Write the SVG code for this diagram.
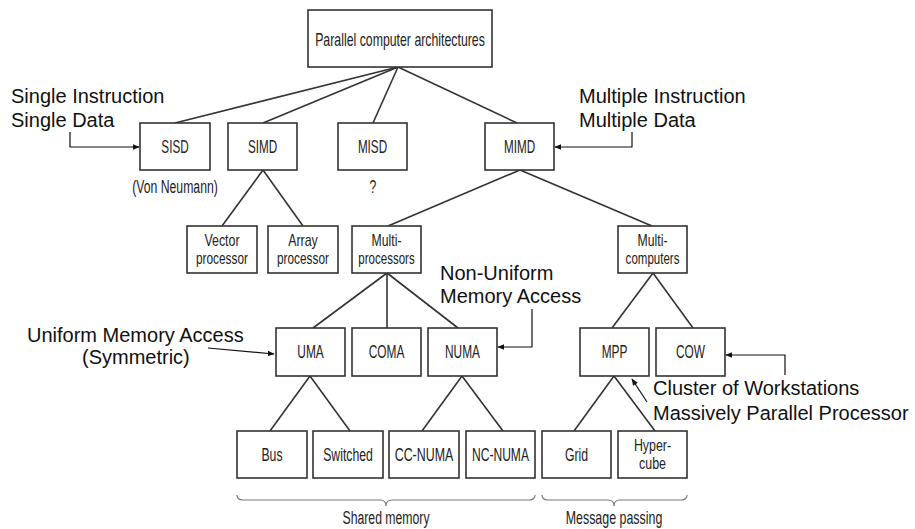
<svg xmlns="http://www.w3.org/2000/svg" width="915" height="529" viewBox="0 0 915 529">
  <style>
    .box { fill: #ffffff; stroke: #333333; stroke-width: 1.6; }
    .nt { font-family: "Liberation Sans", Arial, Helvetica, sans-serif; font-size: 18px; fill: #222222; text-anchor: middle; }
    .nt2 { font-size: 16px; }
    .edge { stroke: #333333; stroke-width: 1.6; fill: none; }
    .note { font-family: "Liberation Sans", Arial, sans-serif; font-size: 20px; fill: #111111; }
    .ptr { stroke: #111111; stroke-width: 1.2; fill: none; }
    .brace { stroke: #777777; stroke-width: 1.2; fill: none; }
  </style>
  <defs>
    <marker id="head" viewBox="0 0 10 10" refX="9" refY="5" markerWidth="7" markerHeight="7" orient="auto" markerUnits="userSpaceOnUse">
      <path d="M0,1 L10,5 L0,9 Z" fill="#111111"/>
    </marker>
  </defs>
  <rect width="915" height="529" fill="#ffffff"/>

  <!-- tree edges -->
  <g id="connectors">
    <line class="edge" x1="398" y1="67" x2="175" y2="123"/>
    <line class="edge" x1="398" y1="67" x2="263" y2="123"/>
    <line class="edge" x1="398" y1="67" x2="373" y2="123"/>
    <line class="edge" x1="398" y1="67" x2="517" y2="123"/>
    <line class="edge" x1="263" y1="170" x2="222" y2="226"/>
    <line class="edge" x1="263" y1="170" x2="303" y2="226"/>
    <line class="edge" x1="520" y1="170" x2="388" y2="226"/>
    <line class="edge" x1="520" y1="170" x2="652" y2="226"/>
    <line class="edge" x1="387" y1="273" x2="313" y2="328"/>
    <line class="edge" x1="387" y1="273" x2="387" y2="328"/>
    <line class="edge" x1="387" y1="273" x2="458" y2="328"/>
    <line class="edge" x1="653" y1="273" x2="612" y2="328"/>
    <line class="edge" x1="653" y1="273" x2="693" y2="328"/>
    <line class="edge" x1="310" y1="376" x2="270" y2="431"/>
    <line class="edge" x1="310" y1="376" x2="350" y2="431"/>
    <line class="edge" x1="462" y1="376" x2="422" y2="431"/>
    <line class="edge" x1="462" y1="376" x2="503" y2="431"/>
    <line class="edge" x1="614" y1="376" x2="574" y2="431"/>
    <line class="edge" x1="614" y1="376" x2="655" y2="431"/>
  </g>

  <!-- nodes (labels set in a condensed face: scaled horizontally) -->
  <g id="root"><rect class="box" x="308" y="10" width="184" height="57"/><text class="nt" transform="translate(400,46) scale(0.685,1)">Parallel computer architectures</text></g>

  <g id="sisd"><rect class="box" x="140" y="123" width="70" height="47"/><text class="nt" transform="translate(175,153) scale(0.65,1)">SISD</text></g>
  <g id="simd"><rect class="box" x="228" y="123" width="69" height="47"/><text class="nt" transform="translate(262.5,153) scale(0.65,1)">SIMD</text></g>
  <g id="misd"><rect class="box" x="338" y="123" width="69" height="47"/><text class="nt" transform="translate(372.5,153) scale(0.65,1)">MISD</text></g>
  <g id="mimd"><rect class="box" x="485" y="123" width="69" height="47"/><text class="nt" transform="translate(519.5,153) scale(0.65,1)">MIMD</text></g>

  <g id="sisd-note"><text class="nt" transform="translate(175,193) scale(0.68,1)">(Von Neumann)</text></g>
  <g id="misd-note"><text class="nt" transform="translate(373,193) scale(0.68,1)">?</text></g>

  <g id="vector"><rect class="box" x="187" y="226" width="70" height="47"/><text class="nt nt2" transform="translate(222,246) scale(0.776,1)">Vector</text><text class="nt nt2" transform="translate(222,264) scale(0.74,1)">processor</text></g>
  <g id="array"><rect class="box" x="268" y="226" width="70" height="47"/><text class="nt nt2" transform="translate(303,246) scale(0.776,1)">Array</text><text class="nt nt2" transform="translate(303,264) scale(0.74,1)">processor</text></g>
  <g id="multiprocessors"><rect class="box" x="352" y="226" width="69" height="47"/><text class="nt nt2" transform="translate(386.5,246) scale(0.765,1)">Multi-</text><text class="nt nt2" transform="translate(386.5,264) scale(0.72,1)">processors</text></g>
  <g id="multicomputers"><rect class="box" x="618" y="226" width="69" height="47"/><text class="nt nt2" transform="translate(652.5,246) scale(0.765,1)">Multi-</text><text class="nt nt2" transform="translate(652.5,264) scale(0.72,1)">computers</text></g>

  <g id="uma"><rect class="box" x="276" y="328" width="69" height="48"/><text class="nt" transform="translate(310.5,358) scale(0.66,1)">UMA</text></g>
  <g id="coma"><rect class="box" x="352" y="328" width="69" height="48"/><text class="nt" transform="translate(386.5,358) scale(0.66,1)">COMA</text></g>
  <g id="numa"><rect class="box" x="428" y="328" width="69" height="48"/><text class="nt" transform="translate(462.5,358) scale(0.66,1)">NUMA</text></g>
  <g id="mpp"><rect class="box" x="580" y="328" width="69" height="48"/><text class="nt" transform="translate(614.5,358) scale(0.66,1)">MPP</text></g>
  <g id="cow"><rect class="box" x="656" y="328" width="69" height="48"/><text class="nt" transform="translate(690.5,358) scale(0.66,1)">COW</text></g>

  <g id="bus"><rect class="box" x="237" y="431" width="70" height="47"/><text class="nt" transform="translate(272,461) scale(0.68,1)">Bus</text></g>
  <g id="switched"><rect class="box" x="313" y="431" width="70" height="47"/><text class="nt" transform="translate(348,461) scale(0.68,1)">Switched</text></g>
  <g id="cc-numa"><rect class="box" x="389" y="431" width="70" height="47"/><text class="nt" transform="translate(424,461) scale(0.69,1)">CC-NUMA</text></g>
  <g id="nc-numa"><rect class="box" x="466" y="431" width="69" height="47"/><text class="nt" transform="translate(500.5,461) scale(0.67,1)">NC-NUMA</text></g>
  <g id="grid"><rect class="box" x="542" y="431" width="69" height="47"/><text class="nt" transform="translate(576.5,461) scale(0.68,1)">Grid</text></g>
  <g id="hypercube"><rect class="box" x="618" y="431" width="69" height="47"/><text class="nt nt2" transform="translate(652.5,451) scale(0.776,1)">Hyper-</text><text class="nt nt2" transform="translate(652.5,469) scale(0.776,1)">cube</text></g>

  <!-- group braces -->
  <g id="shared-memory">
    <path class="brace" d="M237,495 Q237,500 243,500 L380,500 Q386,500 386,506 Q386,500 392,500 L529,500 Q535,500 535,495"/>
    <text class="nt" transform="translate(386,524) scale(0.68,1)">Shared memory</text>
  </g>
  <g id="message-passing">
    <path class="brace" d="M542,495 Q542,500 548,500 L608,500 Q614,500 614,506 Q614,500 620,500 L681,500 Q687,500 687,495"/>
    <text class="nt" transform="translate(614,524) scale(0.69,1)">Message passing</text>
  </g>

  <!-- callouts -->
  <g id="callout-sisd">
    <text class="note" x="11" y="103">Single Instruction</text>
    <text class="note" x="11" y="127">Single Data</text>
    <polyline class="ptr" points="70,132 70,147 139,147" marker-end="url(#head)"/>
  </g>
  <g id="callout-mimd">
    <text class="note" x="579" y="103">Multiple Instruction</text>
    <text class="note" x="579" y="127">Multiple Data</text>
    <polyline class="ptr" points="632,132 632,147 555,147" marker-end="url(#head)"/>
  </g>
  <g id="callout-numa">
    <text class="note" x="440" y="280">Non-Uniform</text>
    <text class="note" x="440" y="303">Memory Access</text>
    <polyline class="ptr" points="532,309 532,347 498,347" marker-end="url(#head)"/>
  </g>
  <g id="callout-uma">
    <text class="note" x="27" y="342">Uniform Memory Access</text>
    <text class="note" x="82" y="364">(Symmetric)</text>
    <line class="ptr" x1="208" y1="348" x2="274" y2="354" marker-end="url(#head)"/>
  </g>
  <g id="callout-cow">
    <text class="note" x="653" y="395">Cluster of Workstations</text>
    <polyline class="ptr" points="785,375 785,355 726,355" marker-end="url(#head)"/>
  </g>
  <g id="callout-mpp">
    <text class="note" x="653" y="420">Massively Parallel Processor</text>
    <line class="ptr" x1="647" y1="402" x2="632" y2="379" marker-end="url(#head)"/>
  </g>
</svg>
